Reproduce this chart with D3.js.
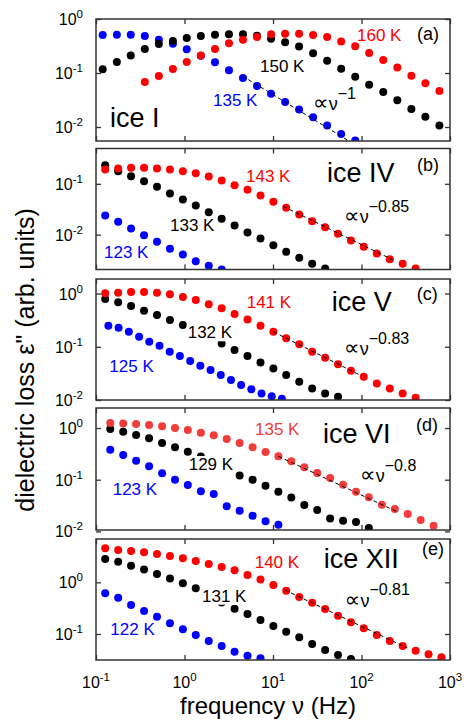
<!DOCTYPE html>
<html>
<head>
<meta charset="utf-8">
<script src="https://cdn.jsdelivr.net/npm/d3@7"></script>
<style>
  body { margin: 0; background: #fff; }
  svg { display: block; font-family: "Liberation Sans", Arial, sans-serif; }
</style>
</head>
<body>
<div id="chart"></div>
<script>
// frequency grids (Hz)
const freqA = [0.119, 0.172, 0.247, 0.356, 0.513, 0.739, 1.06, 1.53, 2.21, 3.18, 4.58, 6.60, 9.51, 13.7, 19.7, 28.4, 40.9, 58.9, 84.9, 122, 176, 254, 366, 527, 759];
const freqB = [0.127, 0.178, 0.249, 0.349, 0.489, 0.685, 0.958, 1.34, 1.88, 2.63, 3.68, 5.15, 7.22, 10.1, 14.1, 19.8, 27.7, 38.8, 54.3, 76.0, 106, 149, 209, 292, 409, 572, 801];
const freqD = [0.145, 0.203, 0.284, 0.398, 0.558, 0.781, 1.09, 1.53, 2.14, 3.00, 4.20, 5.88, 8.23, 11.5, 16.1, 22.6, 31.6, 44.2, 61.9, 86.7, 121, 170, 238, 333, 466, 652];
const freqC125 = [0.138, 0.180, 0.235, 0.307, 0.400, 0.522, 0.681, 0.887, 1.16, 1.51, 1.97, 2.57, 3.35, 4.36, 5.69, 7.42, 9.68, 12.6];

// (a) ice I
const a160 = [0.0681, 0.0879, 0.119, 0.160, 0.212, 0.278, 0.354, 0.414, 0.465, 0.520, 0.535, 0.535, 0.506, 0.465, 0.385, 0.312, 0.234, 0.174, 0.126, 0.0893, 0.0644, 0.0465];
const a150 = [0.117, 0.160, 0.212, 0.278, 0.344, 0.392, 0.445, 0.484, 0.513, 0.520, 0.520, 0.491, 0.433, 0.370, 0.308, 0.231, 0.169, 0.120, 0.0855, 0.0608, 0.0445, 0.0312, 0.0215, 0.0155, 0.0107];
const a135 = [0.506, 0.513, 0.513, 0.484, 0.414, 0.349, 0.274, 0.209, 0.158, 0.112, 0.0807, 0.0574, 0.0414, 0.0290, 0.0212, 0.0151, 0.0107, 0.00741, 0.00562];

// (b) ice IV
const b143 = [0.191, 0.200, 0.207, 0.207, 0.200, 0.191, 0.177, 0.162, 0.139, 0.116, 0.0938, 0.0762, 0.0589, 0.0443, 0.0337, 0.0249, 0.0184, 0.0140, 0.0104, 0.00766, 0.00575, 0.00425, 0.00328, 0.00266, 0.00215];
const b133 = [0.232, 0.177, 0.141, 0.112, 0.0873, 0.0644, 0.0491, 0.0374, 0.0276, 0.0205, 0.0151, 0.0110, 0.00838, 0.00618, 0.00458, 0.00349, 0.00266, 0.00215];
const b123 = [0.0238, 0.0179, 0.0132, 0.00973, 0.00721, 0.00525, 0.00406, 0.00299, 0.00243, 0.00206];

// (c) ice V
const c141 = [1.01, 1.04, 1.07, 1.07, 1.04, 0.966, 0.859, 0.755, 0.627, 0.527, 0.412, 0.327, 0.248, 0.191, 0.144, 0.111, 0.0805, 0.0621, 0.0467, 0.0354, 0.0273, 0.0205, 0.0165, 0.0133, 0.0110];
const c132 = [0.789, 0.684, 0.582, 0.475, 0.394, 0.318, 0.256, 0.200, 0.155, 0.115, 0.0867, 0.0668, 0.0509, 0.0389, 0.0294, 0.0220, 0.0165, 0.0133, 0.0115];
const c125 = [0.248, 0.228, 0.191, 0.154, 0.124, 0.104, 0.0805, 0.0668, 0.0538, 0.0440, 0.0365, 0.0294, 0.0237, 0.0191, 0.0160, 0.0133, 0.0118, 0.0106];

// (d) ice VI
const d135 = [1.25, 1.23, 1.19, 1.14, 1.08, 1.00, 0.914, 0.811, 0.723, 0.612, 0.513, 0.424, 0.344, 0.284, 0.227, 0.174, 0.135, 0.108, 0.0800, 0.0586, 0.0457, 0.0328, 0.0271, 0.0217, 0.0166, 0.0129];
const d129 = [0.957, 0.847, 0.733, 0.632, 0.513, 0.424, 0.348, 0.281, 0.220, 0.165, 0.121, 0.100, 0.0766, 0.0586, 0.0453, 0.0324, 0.0259, 0.0178, 0.0161, 0.0152, 0.0116];
const d123 = [0.380, 0.301, 0.233, 0.182, 0.133, 0.100, 0.0789, 0.0597, 0.0528, 0.0306, 0.0251, 0.0201, 0.0157, 0.0135];

// (e) ice XII
const e140 = [4.55, 4.22, 4.03, 3.80, 3.52, 3.23, 2.91, 2.58, 2.26, 1.98, 1.71, 1.38, 1.14, 0.887, 0.689, 0.520, 0.403, 0.305, 0.226, 0.168, 0.129, 0.0957, 0.0733, 0.0586, 0.0475, 0.0405, 0.0354];
const e131 = [2.82, 2.50, 2.09, 1.78, 1.45, 1.19, 0.957, 0.766, 0.550, 0.407, 0.309, 0.244, 0.187, 0.143, 0.111, 0.0863, 0.0641, 0.0490, 0.0393, 0.0328];
const e122 = [0.612, 0.504, 0.364, 0.279, 0.216, 0.161, 0.123, 0.0957, 0.0733, 0.0586, 0.0455, 0.0380, 0.0339];

const panelNames = ["ice I", "ice IV", "ice V", "ice VI", "ice XII"];
const panelTags = ["(a)", "(b)", "(c)", "(d)", "(e)"];
const tempLabels = [["160 K", "150 K", "135 K"], ["143 K", "133 K", "123 K"], ["141 K", "132 K", "125 K"], ["135 K", "129 K", "123 K"], ["140 K", "131 K", "122 K"]];
const fitExponents = [-1, -0.85, -0.83, -0.8, -0.81];
const fitLabels = ["\u22121", "\u22120.85", "\u22120.83", "\u22120.8", "\u22120.81"];
const fitAnchorFreq = [13.7, 14.1, 10.1, 11.5, 14.1];
const fitAnchorValue = [0.029, 0.0337, 0.191, 0.284, 0.689];
const fitFreqRange = [[4.5, 1000], [13, 227], [10.1, 100], [11.5, 250], [13.6, 330]];
const yDomains = [[0.00551, 1], [0.00206, 0.495], [0.01, 1.875], [0.01064, 2.44], [0.0314, 6.89]];
const yTicks = [[1, 0.1, 0.01], [0.1, 0.01], [1, 0.1, 0.01], [1, 0.1, 0.01], [1, 0.1]];
const xTicks = [0.1, 1, 10, 100, 1000];

const RED = "#ff0000", RED_D = "#f23c3c", BLACK = "#000", BLUE = "#0000ff";

// series per panel: red, black, blue
const series = [
  [{ f: freqA, s: 3, v: a160, c: RED }, { f: freqA, s: 0, v: a150, c: BLACK }, { f: freqA, s: 0, v: a135, c: BLUE }],
  [{ f: freqB, s: 0, v: b143, c: RED }, { f: freqB, s: 0, v: b133, c: BLACK }, { f: freqB, s: 0, v: b123, c: BLUE }],
  [{ f: freqB, s: 0, v: c141, c: RED }, { f: freqB, s: 0, v: c132, c: BLACK }, { f: freqC125, s: 0, v: c125, c: BLUE }],
  [{ f: freqD, s: 0, v: d135, c: RED_D }, { f: freqD, s: 0, v: d129, c: BLACK }, { f: freqD, s: 0, v: d123, c: BLUE }],
  [{ f: freqB, s: 0, v: e140, c: RED }, { f: freqB, s: 0, v: e131, c: BLACK }, { f: freqB, s: 0, v: e122, c: BLUE }],
];

// layout
const W = 466, H = 721;
const left = 96, right = 450;
const panelTop = [19, 148.5, 279, 408, 539];
const panelBottom = [141, 269.5, 400, 530, 660];
// label anchors: [red, black, blue, name, tag, fit]
const labelPos = [
  [[357, 41], [260, 72], [213, 106], [110, 127], [417, 40], [313, 110]],
  [[246, 181.5], [170, 231], [104, 258.3], [327, 181.7], [417, 171], [344, 223]],
  [[246.7, 308.3], [187.7, 338.3], [109.3, 371.7], [331.7, 311], [416.7, 300], [344, 355]],
  [[255, 435], [188.7, 470], [112.7, 494.7], [323, 443.3], [416, 430.7], [360, 482.3]],
  [[254.7, 568.3], [202, 601.7], [110.3, 635], [323.7, 568.3], [422, 555], [344.7, 606.7]],
];

const svg = d3.select("#chart").append("svg").attr("width", W).attr("height", H);

const x = d3.scaleLog().domain([0.1, 1000]).range([left, right]);

// "10" with superscript exponent
function powLabel(g, px, py, exp, anchor) {
  const t = g.append("text").attr("x", px).attr("y", py)
    .attr("text-anchor", anchor).attr("font-size", 16).attr("fill", "#000");
  t.append("tspan").text("10");
  t.append("tspan").attr("dy", -7).attr("font-size", 11.5).text(exp);
}

function addText(g, px, py, txt, color, size, bg) {
  const t = g.append("text").attr("x", px).attr("y", py)
    .attr("font-size", size).attr("fill", color).text(txt);
  if (bg) {
    const b = t.node().getBBox();
    g.insert("rect", () => t.node())
      .attr("x", b.x - 1).attr("y", b.y + 1)
      .attr("width", b.width + 2).attr("height", b.height - 2)
      .attr("fill", "#fff");
  }
  return t;
}

series.forEach((group, i) => {
  const top = panelTop[i], bot = panelBottom[i];
  const y = d3.scaleLog().domain(yDomains[i]).range([bot, top]);
  const g = svg.append("g");

  g.append("clipPath").attr("id", "clip" + i)
    .append("rect").attr("x", left).attr("y", top)
    .attr("width", right - left).attr("height", bot - top);

  const plot = g.append("g").attr("clip-path", `url(#clip${i})`);

  // points: blue first, then black, then red on top
  group.slice().reverse().forEach((s) => {
    plot.append("g").selectAll("circle")
      .data(s.v)
      .join("circle")
      .attr("cx", (d, k) => x(s.f[s.s + k]))
      .attr("cy", (d) => y(d))
      .attr("r", 4)
      .attr("fill", s.c);
  });

  // power-law fit line
  const n = fitExponents[i];
  const A = fitAnchorValue[i] / Math.pow(fitAnchorFreq[i], n);
  const fitPts = fitFreqRange[i].map((f) => [f, A * Math.pow(f, n)]);
  plot.append("path")
    .datum(fitPts)
    .attr("d", d3.line().x((d) => x(d[0])).y((d) => y(d[1])))
    .attr("fill", "none")
    .attr("stroke", "#000")
    .attr("stroke-width", 1)
    .attr("stroke-dasharray", "4,3");

  // frame + inward ticks on all sides
  const tickStyle = (sel) => {
    sel.select(".domain").remove();
    sel.selectAll(".tick line").attr("stroke", "#333").attr("stroke-width", 1.3);
  };
  g.append("g").attr("transform", `translate(0,${bot})`)
    .call(d3.axisBottom(x).tickValues(xTicks).tickSize(-5).tickFormat("")).call(tickStyle);
  g.append("g").attr("transform", `translate(0,${top})`)
    .call(d3.axisTop(x).tickValues(xTicks).tickSize(-5).tickFormat("")).call(tickStyle);
  g.append("g").attr("transform", `translate(${left},0)`)
    .call(d3.axisLeft(y).tickValues(yTicks[i]).tickSize(-5).tickFormat("")).call(tickStyle);
  g.append("g").attr("transform", `translate(${right},0)`)
    .call(d3.axisRight(y).tickValues(yTicks[i]).tickSize(-5).tickFormat("")).call(tickStyle);
  g.append("rect").attr("x", left).attr("y", top)
    .attr("width", right - left).attr("height", bot - top)
    .attr("fill", "none").attr("stroke", "#333").attr("stroke-width", 1.5);

  // y tick labels
  yTicks[i].forEach((v) => {
    powLabel(g, 83, y(v) + 6, String(Math.round(Math.log10(v))), "end");
  });

  // annotations
  const pos = labelPos[i];
  group.forEach((s, j) => {
    addText(g, pos[j][0], pos[j][1], tempLabels[i][j], s.c, 17, j === 1);
  });
  addText(g, pos[3][0], pos[3][1], panelNames[i], "#000", 27, false);
  addText(g, pos[4][0], pos[4][1], panelTags[i], "#000", 18, false);
  const fl = g.append("text").attr("x", pos[5][0]).attr("y", pos[5][1])
    .attr("font-size", 18).attr("fill", "#000");
  fl.append("tspan").attr("font-family", "DejaVu Sans").attr("font-size", 22).text("\u221D");
  fl.append("tspan").text("\u03BD");
  const fw = fl.node().getComputedTextLength();
  addText(g, pos[5][0] + fw, pos[5][1] - 11.5, fitLabels[i], "#000", 16, false);
});

// x tick labels under bottom panel
const xl = svg.append("g");
xTicks.forEach((v) => {
  powLabel(xl, x(v), 688, String(Math.round(Math.log10(v))), "middle");
});

// axis titles
svg.append("text")
  .attr("x", 268).attr("y", 714)
  .attr("text-anchor", "middle").attr("font-size", 24)
  .text("frequency \u03BD (Hz)");

svg.append("text")
  .attr("transform", "translate(34,360) rotate(-90)")
  .attr("text-anchor", "middle").attr("font-size", 25)
  .text("dielectric loss \u03B5\" (arb. units)");
</script>
</body>
</html>
